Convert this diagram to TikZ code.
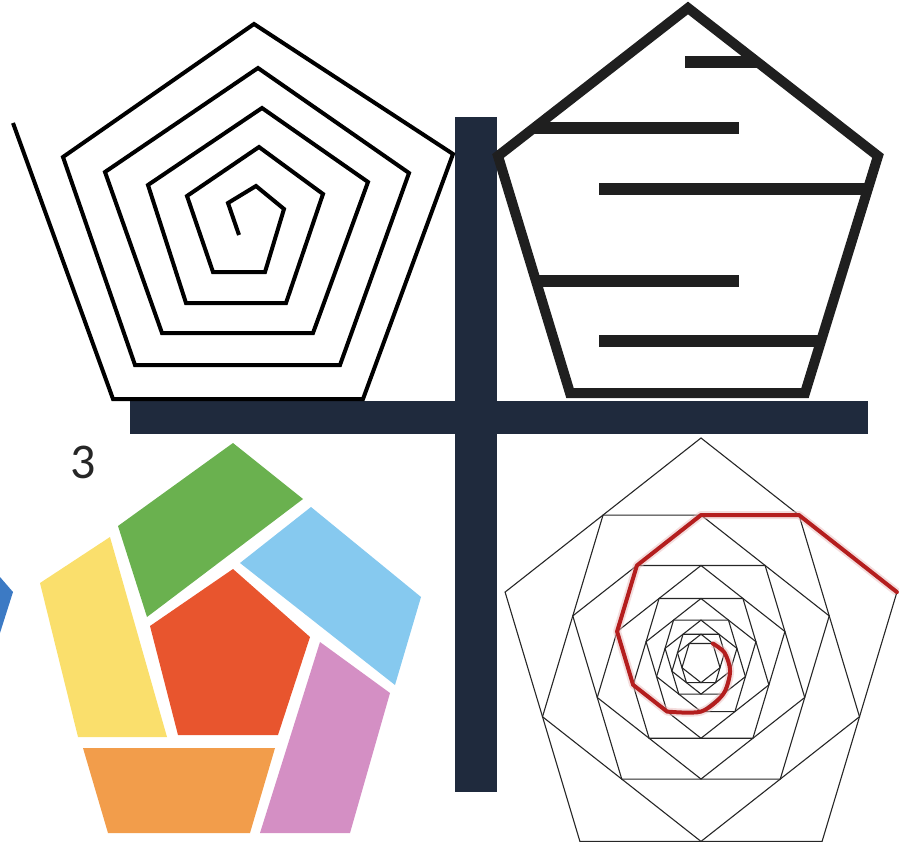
\documentclass[tikz,border=0pt]{standalone}
\usepackage{fontspec}
\setsansfont{Carlito}
\definecolor{navy}{HTML}{1F2A3D}
\definecolor{tilegreen}{HTML}{6AB14F}
\definecolor{tilesky}{HTML}{86C9EF}
\definecolor{tilered}{HTML}{E8552E}
\definecolor{tileyellow}{HTML}{FADF6C}
\definecolor{tileorange}{HTML}{F29D4B}
\definecolor{tilepink}{HTML}{D48FC4}
\definecolor{tileblue}{HTML}{3C7AC4}
\definecolor{spiralred}{HTML}{B41E1E}
\tikzset{
  crossbar/.style={fill=navy},
  spiralline/.style={line width=4pt, line join=miter},
  housewall/.style={line width=10pt, line join=miter, draw=black!88},
  rung/.style={line width=12pt, draw=black!88},
  tile/.style={fill=#1},
  roseline/.style={line width=1.1pt, draw=black!85},
  redglow/.style={line width=8pt, draw=spiralred!30, opacity=0.5, line join=round},
  redspiral/.style={line width=4pt, draw=spiralred, line join=round, line cap=round}
}

\begin{document}
\begin{tikzpicture}[x=1pt, y=-1pt]
  \useasboundingbox (0,0) rectangle (905,845);

  % the cross
  \fill[crossbar] (455,117) rectangle (497,792);
  \fill[crossbar] (130,401) rectangle (868,434);

  % top left: square spiral
  \draw[spiralline] (13,123) -- (113,399) -- (363,399) -- (453,154) -- (254,24)
    -- (63,157) -- (135,365) -- (340,365) -- (409,173) -- (258,68)
    -- (105,172) -- (162,333) -- (313,333) -- (368,182) -- (262,108)
    -- (148,185) -- (186,303) -- (286,303) -- (323,194) -- (259,147)
    -- (187,196) -- (213,272) -- (265,272) -- (284,209) -- (256,186)
    -- (228,203) -- (239,235);

  % top right: maze house
  \draw[housewall] (688,8) -- (878,156) -- (805,393) -- (570,393) -- (498,156) -- cycle;
  \foreach \y/\xa/\xb in {62/685/757, 128/534/739, 189/599/868, 281/536/739, 341/599/821}
    \draw[rung] (\xa,\y) -- (\xb,\y);

  % bottom left: tiles
  \fill[tile=tileblue] (0,577) -- (13,592) -- (0,633) -- cycle;
  \fill[tile=tilegreen] (118,526) -- (233,443) -- (303,499) -- (147,617) -- cycle;
  \fill[tile=tilesky] (240,563) -- (311,507) -- (421,597) -- (395,685) -- cycle;
  \fill[tile=tilered] (233,569) -- (310,637) -- (278,735) -- (178,735) -- (150,626) -- cycle;
  \fill[tile=tileyellow] (40,583) -- (110,537) -- (167,737) -- (78,737) -- cycle;
  \fill[tile=tileorange] (83,748) -- (275,748) -- (250,833) -- (108,833) -- cycle;
  \fill[tile=tilepink] (320,642) -- (390,693) -- (350,833) -- (260,833) -- cycle;
  \node[font=\sffamily\fontsize{50}{50}\selectfont, text=black!85] (three) at (83,462) {3};

  % bottom right: nested pentagons
  \begin{scope}[shift={(701,661)}, x=206pt, y=223pt]
    \foreach \n in {0,...,11}{
      \pgfmathsetmacro{\r}{0.809^\n}
      \pgfmathsetmacro{\a}{90+36*\n}
      \draw[roseline] (\a:\r) -- ({\a+72}:\r) -- ({\a+144}:\r) -- ({\a+216}:\r) -- ({\a+288}:\r) -- cycle;
    }
    \draw[redglow] plot[variable=\t, samples at={0,...,6}] ({18+36*\t}:{0.809^\t})
      -- plot[smooth, variable=\t, samples at={6,...,11}] ({18+36*\t}:{0.809^\t});
    \draw[redspiral] plot[variable=\t, samples at={0,...,6}] ({18+36*\t}:{0.809^\t})
      -- plot[smooth, variable=\t, samples at={6,...,11}] ({18+36*\t}:{0.809^\t});
  \end{scope}
\end{tikzpicture}
\end{document}
